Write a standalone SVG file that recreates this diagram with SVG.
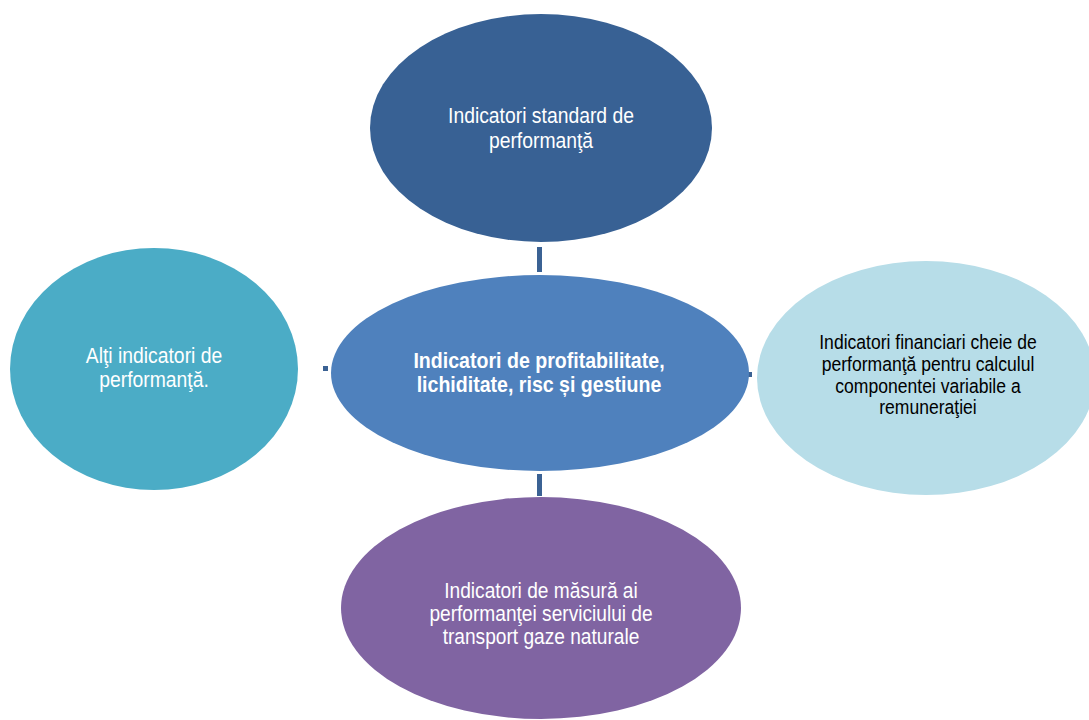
<svg xmlns="http://www.w3.org/2000/svg" width="1089" height="720" viewBox="0 0 1089 720">
<style>
text{font-family:"Liberation Sans",Arial,sans-serif;text-anchor:middle}
.w{fill:#ffffff;font-size:21.5px}
.b{fill:#000000;font-size:19.5px}
.c{fill:#ffffff;font-size:22px;font-weight:bold}
.con{fill:#3b6294}
</style>
<rect width="1089" height="720" fill="#ffffff"/>
<g id="connectors">
<rect class="con" x="537" y="247" width="5" height="25"/>
<rect class="con" x="537" y="474" width="5" height="22"/>
<rect class="con" x="323" y="366" width="5" height="5"/>
<rect class="con" x="748" y="372" width="4" height="5"/>
</g>
<g id="top">
<ellipse cx="541" cy="128" rx="171" ry="114" fill="#386194"/>
<g transform="translate(541 0) scale(0.9 1)">
<text class="w" x="0" y="123">Indicatori standard de</text>
<text class="w" x="0" y="148">performanţă</text>
</g>
</g>
<g id="center">
<ellipse cx="540" cy="373" rx="209" ry="98" fill="#4f81bd"/>
<g transform="translate(539 0) scale(0.89 1)">
<text class="c" x="0" y="368">Indicatori de profitabilitate,</text>
<text class="c" x="0" y="392">lichiditate, risc și gestiune</text>
</g>
</g>
<g id="left">
<ellipse cx="154" cy="369" rx="144" ry="121" fill="#4bacc6"/>
<g transform="translate(154 0) scale(0.9 1)">
<text class="w" x="0" y="363">Alţi indicatori de</text>
<text class="w" x="0" y="387">performanţă.</text>
</g>
</g>
<g id="right">
<ellipse cx="926" cy="378" rx="169" ry="117" fill="#b7dde8"/>
<g transform="translate(928 0) scale(0.9 1)">
<text class="b" x="0" y="349">Indicatori financiari cheie de</text>
<text class="b" x="0" y="371">performanţă pentru calculul</text>
<text class="b" x="0" y="393">componentei variabile a</text>
<text class="b" x="0" y="414">remuneraţiei</text>
</g>
</g>
<g id="bottom">
<ellipse cx="541" cy="608" rx="200" ry="111" fill="#8064a2"/>
<g transform="translate(541 0) scale(0.89 1)">
<text class="w" x="0" y="598">Indicatori de măsură ai</text>
<text class="w" x="0" y="621">performanţei serviciului de</text>
<text class="w" x="0" y="644">transport gaze naturale</text>
</g>
</g>
</svg>
